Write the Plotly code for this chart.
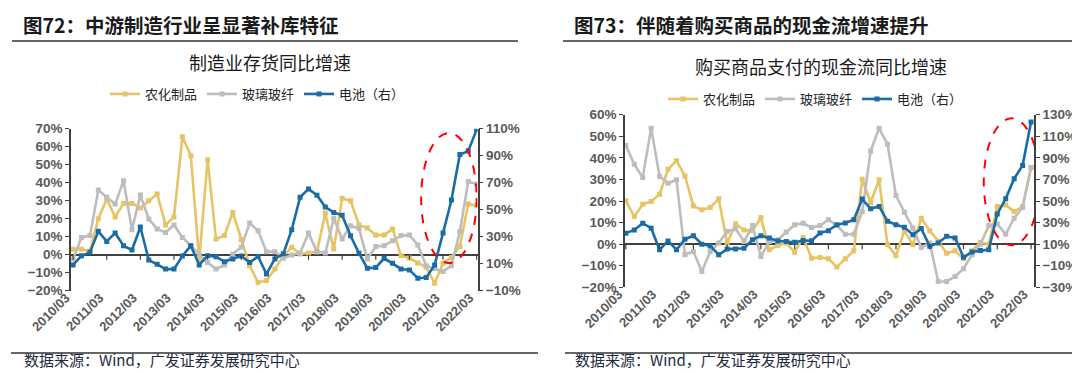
import plotly.graph_objects as go

W, H = 1080, 373

quarters = [f"{y}/{m:02d}" for y in range(2010, 2023) for m in (3, 6, 9, 12)][:49]
tick_labels = [f"{y}/03" for y in range(2010, 2023)]

# ---- Figure 72: inventory YoY ----
inv_agro = [3, 3, 2, 20, 31, 21, 28.5, 28.5, 26, 30,
            33.7, 16.5, 21, 65.5, 55, -3, 52.8, 8.7, 10.6, 23.5,
            8.3, -6.1, -15.4, -14.4, -8, -0.6, 4.1, 0.4, 0.9, 1.7,
            23.1, 3.1, 31.3, 30, 16.5, 14.8, 10.9, 10.9, 14.3, -0.6,
            -1.9, -4.6, -7, -15.9, -4.8, -1.5, 4.6, 28.1, 27.2]
inv_glass = [-2.4, 9.6, 10.6, 36, 31.9, 28.1, 41.1, 13.9, 33.1, 19.8,
             14.3, 12.4, 16.5, 9.6, 5, 0, -4.3, -8, -5.7, 0.4,
             4.1, 17.6, 13.3, 1.7, 1.7, -2, -0.2, 0.9, 12, 1.7,
             0.9, 20.2, 8.7, 16.1, 14.6, -2.4, 4.6, 5, 7.8, 10.6,
             10.9, 5.4, -6.1, -7.6, -9.4, -6.1, 12.8, 40.6, 39.3]
inv_battery = [9.1, 15.9, 18.4, 34, 26.5, 32.7, 23.3, 20.1, 37.2, 12.7,
               9.5, 6, 6, 15.7, 23.3, 9.1, 15.9, 15.2, 11.5, 13.5,
               15.7, 10.8, 15.4, 2.4, 13.5, 17.3, 35.1, 59.2, 65.4, 60.7,
               52, 48, 45.8, 30.7, 17.8, 6.6, 7.1, 14, 10.3, 6.1,
               5.4, -0.8, -0.3, 9.1, 32.7, 57.2, 90.9, 93.4, 109.5]

# ---- Figure 73: cash paid for goods YoY ----
cash_agro = [20.1, 12.8, 18.5, 19.8, 23.1, 34.7, 38.7, 31.6, 17.7, 15.9,
             17, 21, 0.5, 9.4, 6.6, 6.2, 12.3, -2.6, -0.6, 0.5,
             -3.7, 3.1, -6.5, -6.2, -6.8, -10.6, -6.8, -3.1, 30.1, 19.3,
             29.8, -0.3, -5.4, 6.2, -0.3, 12, 6.2, 1.5, -4.2, -3.1,
             -6.8, -3.1, 0.8, 0, 17.4, 18.2, 15.1, 17.4, 35.5]
cash_glass = [45.7, 37, 30.9, 53.7, 31.3, 28.2, 29.8, -4.9, -3.4, -12.7,
              -3.4, 0.5, 5.9, 7.1, 1.2, 8.6, -5.7, 1.2, 2, 5.6,
              9, 9.7, 7.7, 8.6, 11.3, 8.6, 4.6, 4.6, 15.1, 43.2,
              53.7, 46.3, 22.5, 14.8, 7.4, -1.5, 0.5, -17.3, -17.3, -15,
              -11.4, -4.9, 0, 8.6, 9.3, 4.6, 12, 17, 35.5]
cash_battery = [20.2, 23.2, 29.4, 24.8, 4.8, 13, 4.8, 14.6, 17.8, 10,
                8.4, 0.2, 5.4, 5.6, 6.2, 14, 17.8, 15.6, 13, 12.4,
                11.8, 13.4, 13.2, 20.3, 22.5, 28, 29.6, 32.7, 51.8, 42.9,
                45, 31.2, 28, 25.6, 18.8, 24.4, 8, 11.1, 17.3, 15.7,
                -2.2, 2.7, 4, 4.9, 38, 52.2, 70.7, 83, 123.2]

names = ["农化制品", "玻璃玻纤", "电池（右）"]
YEL, GRY, BLU = "#E6C465", "#BDBDBD", "#1B6CA6"

xi = list(range(len(quarters)))
tickvals = [quarters.index(t) for t in tick_labels]

fig = go.Figure()

def add_series(vals, name, color, xa, ya, legend, show):
    fig.add_trace(go.Scatter(
        x=xi, y=vals, name=name, mode="lines+markers",
        line=dict(color=color, width=2.6),
        marker=dict(symbol="square", size=5, color=color),
        xaxis=xa, yaxis=ya, legend=legend, showlegend=show,
        hovertext=quarters))

add_series(inv_agro, names[0], YEL, "x", "y", "legend", True)
add_series(inv_glass, names[1], GRY, "x", "y", "legend", True)
add_series(inv_battery, names[2], BLU, "x", "y2", "legend", True)
add_series(cash_agro, names[0], YEL, "x2", "y3", "legend2", True)
add_series(cash_glass, names[1], GRY, "x2", "y3", "legend2", True)
add_series(cash_battery, names[2], BLU, "x2", "y4", "legend2", True)

AX = "#404040"
TFY = dict(family="Liberation Sans, Arial", size=13.5, color="#595959", weight="bold")
TFX = dict(family="Liberation Sans, Arial", size=13, color="#595959", weight="bold")

def px_dom(a, b, total):
    return [a / total, b / total]

xdom1 = px_dom(63, 469.5, W)
ydom1 = [1 - 282.7 / H, 1 - 120.7 / H]
xdom2 = px_dom(617, 1026, W)
ydom2 = [1 - 279.3 / H, 1 - 106.7 / H]

xcommon = dict(tickmode="array", tickvals=tickvals, ticktext=tick_labels,
               tickangle=-45, tickfont=TFX, showgrid=False, zeroline=False,
               showline=False, ticks="", automargin=False,
               ticklabelshift=-7, ticklabelstandoff=-4)
ycommon = dict(showgrid=False, ticksuffix="%", tickfont=TFY, showline=True,
               linecolor=AX, linewidth=1.5, ticks="outside", ticklen=4,
               tickcolor=AX, tickwidth=1.2, automargin=False)

fig.update_layout(
    width=W, height=H, margin=dict(l=0, r=0, t=0, b=0, autoexpand=False),
    paper_bgcolor="white", plot_bgcolor="rgba(0,0,0,0)",
    xaxis=dict(domain=xdom1, anchor="y", range=[-0.25, 48.1], **xcommon),
    yaxis=dict(domain=ydom1, anchor="x", range=[-20, 70], dtick=10,
               zeroline=True, zerolinecolor=AX, zerolinewidth=1.5, **ycommon),
    yaxis2=dict(domain=ydom1, anchor="x", overlaying="y", side="right",
                range=[-10, 110], tick0=-10, dtick=20, zeroline=False, **ycommon),
    xaxis2=dict(domain=xdom2, anchor="y3", range=[-0.1, 48.35], **xcommon),
    yaxis3=dict(domain=ydom2, anchor="x2", range=[-20, 60], dtick=10,
                zeroline=True, zerolinecolor=AX, zerolinewidth=1.5, **ycommon),
    yaxis4=dict(domain=ydom2, anchor="x2", overlaying="y3", side="right",
                range=[-30, 130], tick0=-30, dtick=20, zeroline=False, **ycommon),
    legend=dict(orientation="h", x=97 / W, y=1 - 86 / H, xanchor="left",
                yanchor="middle", font=dict(family="Noto Sans CJK SC", size=13, color="#222"),
                itemwidth=30, bgcolor="rgba(0,0,0,0)", tracegroupgap=0),
    legend2=dict(orientation="h", x=655 / W, y=1 - 91 / H, xanchor="left",
                 yanchor="middle", font=dict(family="Noto Sans CJK SC", size=13, color="#222"),
                 itemwidth=30, bgcolor="rgba(0,0,0,0)", tracegroupgap=0),
    showlegend=True,
)

shapes = []
for tv in tickvals:
    shapes.append(dict(type="line", xref="x", yref="y", x0=tv, x1=tv,
                       ysizemode="pixel", yanchor=0, y0=0, y1=-5,
                       line=dict(color=AX, width=1.2)))
    shapes.append(dict(type="line", xref="x2", yref="y3", x0=tv, x1=tv,
                       ysizemode="pixel", yanchor=0, y0=0, y1=-5,
                       line=dict(color=AX, width=1.2)))
shapes.append(dict(type="circle", xref="x", yref="y", x0=41.4, x1=48.0,
                   y0=-4.6, y1=67.6, line=dict(color="#FF0000", width=2, dash="dash")))
shapes.append(dict(type="circle", xref="x2", yref="y3", x0=42.4, x1=49.0,
                   y0=-0.5, y1=58.3, line=dict(color="#FF0000", width=2, dash="dash")))
for (a, b, y) in [(4, 510, 33), (555, 1080, 33), (3, 530, 345), (557, 1080, 345)]:
    shapes.append(dict(type="line", xref="paper", yref="paper", x0=a / W, x1=b / W,
                       y0=1 - y / H, y1=1 - y / H, line=dict(color="#333333", width=1.5)))
fig.update_layout(shapes=shapes)

ann = []
def text(x, y, s, size, color="#1a1a1a", family="Noto Sans CJK SC", weight="normal",
         xanchor="left", yanchor="middle"):
    ann.append(dict(x=x / W, y=1 - y / H, xref="paper", yref="paper", text=s,
                    showarrow=False, xanchor=xanchor, yanchor=yanchor,
                    font=dict(family=family, size=size, color=color, weight=weight)))

text(13, 0, "图72：中游制造行业呈显著补库特征", 19.5, weight="bold", yanchor="top")
text(564, 0, "图73：伴随着购买商品的现金流增速提升", 19.5, weight="bold", yanchor="top")
text(262, 54, "制造业存货同比增速", 18, xanchor="center")
text(813, 58, "购买商品支付的现金流同比增速", 18, xanchor="center")
text(14, 351, "数据来源：Wind，广发证券发展研究中心", 15, color="#1f2a44")
text(565, 351, "数据来源：Wind，广发证券发展研究中心", 15, color="#1f2a44")
fig.update_layout(annotations=ann)

fig.write_html("out.html")
